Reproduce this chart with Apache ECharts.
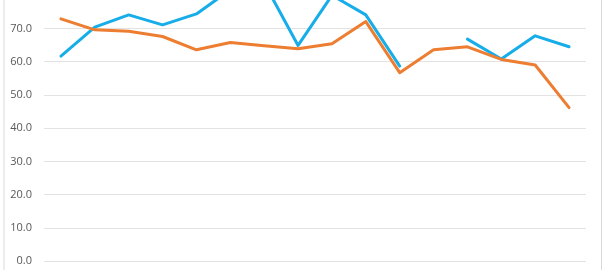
<!DOCTYPE html>
<html>
<head>
<meta charset="utf-8">
<script src="https://cdn.jsdelivr.net/npm/echarts@6/dist/echarts.min.js"></script>
<style>
html,body{margin:0;padding:0;background:#fff;overflow:hidden;width:604px;height:270px;position:relative;}
#c{position:absolute;left:0;top:-40px;width:604px;height:310px;}
</style>
</head>
<body>
<div id="c"></div>
<script>
const categories = ['1','2','3','4','5','6','7','8','9','10','11','12','13','14','15','16'];
const blueValues = [61.7, 70.4, 74.1, 71.1, 74.4, 81.7, 83.7, 64.9, 80.0, 74.1, 58.7, null, 66.8, 60.8, 67.8, 64.5];
const orangeValues = [72.9, 69.6, 69.2, 67.6, 63.6, 65.8, 64.8, 63.9, 65.4, 72.1, 56.7, 63.6, 64.5, 60.7, 59.0, 46.2];
const yTicks = { min: 0, max: 90, interval: 10 };

const chart = echarts.init(document.getElementById('c'), null, { renderer: 'canvas' });
chart.setOption({
  animation: false,
  backgroundColor: '#ffffff',
  graphic: [
    { type: 'line', shape: { x1: 4, y1: 0, x2: 4, y2: 310 }, style: { stroke: '#d9d9d9', lineWidth: 1 }, silent: true },
    { type: 'line', shape: { x1: 601.5, y1: 0, x2: 601.5, y2: 310 }, style: { stroke: '#d9d9d9', lineWidth: 1 }, silent: true }
  ],
  grid: { left: 44, right: 18, top: 2.1, bottom: 9, containLabel: false },
  xAxis: {
    type: 'category',
    data: categories,
    boundaryGap: true,
    axisLine: { show: false },
    axisTick: { show: false },
    axisLabel: { show: false },
    splitLine: { show: false }
  },
  yAxis: {
    type: 'value',
    min: yTicks.min,
    max: yTicks.max,
    interval: yTicks.interval,
    axisLine: { show: false },
    axisTick: { show: false },
    axisLabel: {
      showMaxLabel: false,
      margin: 12,
      color: '#595959',
      fontFamily: 'Open Sans',
      fontSize: 11,
      formatter: v => v.toFixed(1)
    },
    splitLine: { lineStyle: { color: '#e3e3e3', width: 1 } }
  },
  series: [
    {
      type: 'line',
      data: blueValues,
      showSymbol: false,
      connectNulls: false,
      lineStyle: { color: '#17ade8', width: 3, join: 'round', cap: 'round' },
      itemStyle: { color: '#17ade8' }
    },
    {
      type: 'line',
      data: orangeValues,
      showSymbol: false,
      lineStyle: { color: '#ed7d31', width: 3, join: 'round', cap: 'round' },
      itemStyle: { color: '#ed7d31' }
    }
  ]
});
</script>
</body>
</html>
